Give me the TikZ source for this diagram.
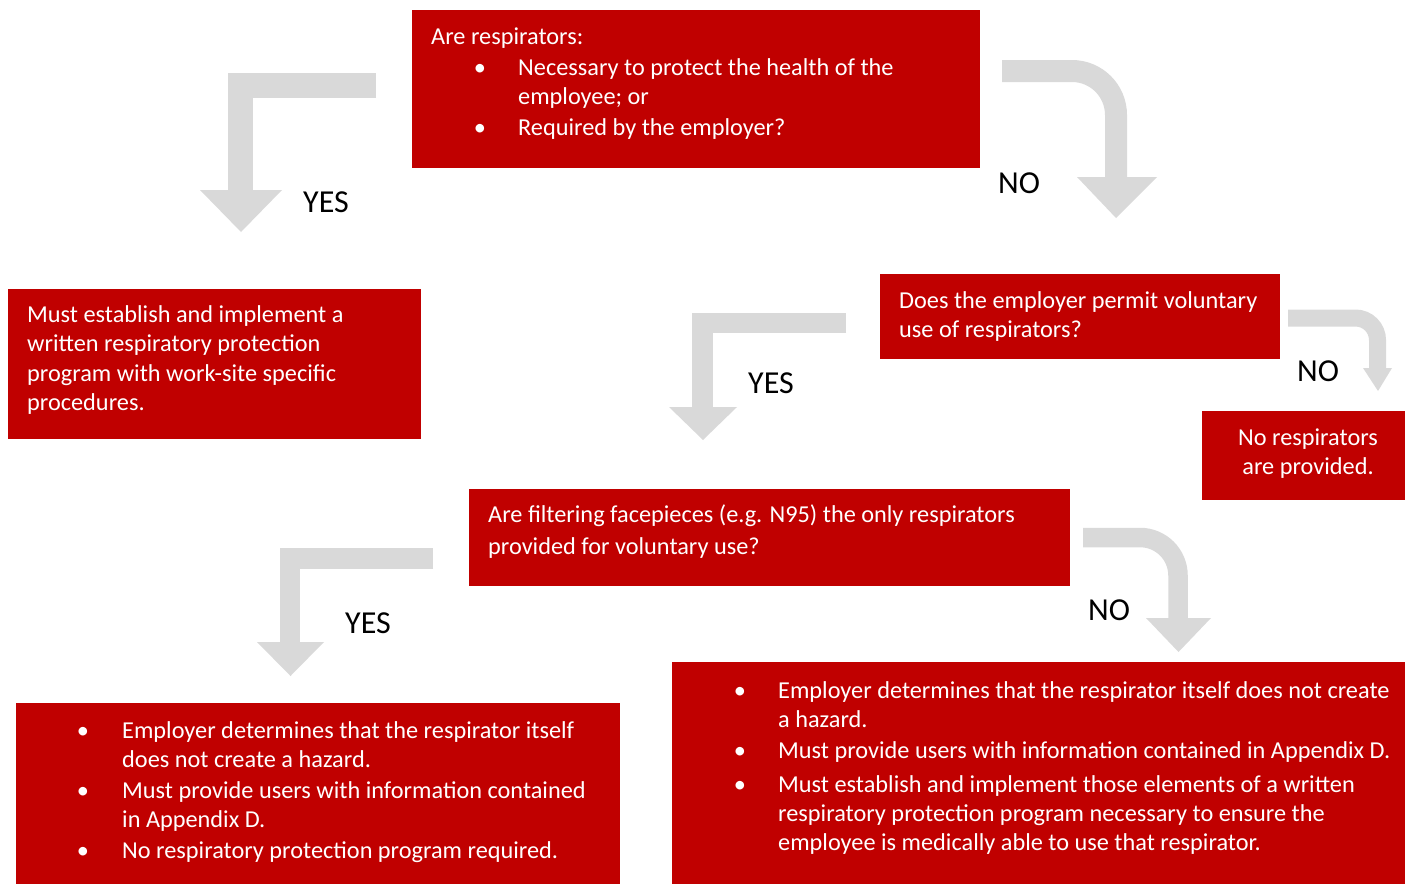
\documentclass[tikz,border=0pt]{standalone}
\usepackage{fontspec}
\setmainfont{Carlito}
\newcommand\bodyfont{\fontsize{24.3}{29}\selectfont}
\newcommand\labfont{\fontsize{32}{36}\selectfont}
\definecolor{boxred}{HTML}{C00000}
\definecolor{arrowgray}{HTML}{D9D9D9}
\begin{document}
\begin{tikzpicture}[x=1pt,y=-1pt,
  redbox/.style={fill=boxred, draw=none, inner sep=0pt, anchor=north west},
  txt/.style={anchor=base west, inner sep=0pt, text=white, font=\bodyfont},
  ctxt/.style={anchor=base, inner sep=0pt, text=white, font=\bodyfont},
  bul/.style={anchor=base, inner sep=0pt, text=white, font=\bodyfont},
  lab/.style={anchor=base west, inner sep=0pt, text=black, font=\labfont},
  shaft/.style={draw=arrowgray, line width=#1, line join=miter},
  head/.style={fill=arrowgray, draw=none}]
\useasboundingbox (0,0) rectangle (1405,884);

% boxes
\node[redbox, minimum width=568pt, minimum height=158pt] (q1) at (412,10) {};
\node[redbox, minimum width=413pt, minimum height=150pt] (r1) at (8,289) {};
\node[redbox, minimum width=400pt, minimum height=85pt] (q2) at (880,274) {};
\node[redbox, minimum width=203pt, minimum height=89pt] (r2) at (1202,411) {};
\node[redbox, minimum width=601pt, minimum height=97pt] (q3) at (469,489) {};
\node[redbox, minimum width=604pt, minimum height=181pt] (r3) at (16,703) {};
\node[redbox, minimum width=733pt, minimum height=222pt] (r4) at (672,662) {};

% box 1 text
\node[txt] (q1a) at (431,44) {Are respirators:};
\node[bul] (q1b1) at (480,75) {•};
\node[txt] (q1b) at (518,75) {Necessary to protect the health of the};
\node[txt] (q1c) at (518,104) {employee; or};
\node[bul] (q1d1) at (480,135) {•};
\node[txt] (q1d) at (518,135) {Required by the employer?};

% box r1 text
\node[txt] (r1a) at (27,322) {Must establish and implement a};
\node[txt] (r1b) at (27,351) {written respiratory protection};
\node[txt] (r1c) at (27,381) {program with work-site specific};
\node[txt] (r1d) at (27,410) {procedures.};

% box q2 text
\node[txt] (q2a) at (899,308) {Does the employer permit voluntary};
\node[txt] (q2b) at (899,337) {use of respirators?};

% box r2 text
\node[ctxt] (r2a) at (1308,445) {No respirators};
\node[ctxt] (r2b) at (1308,474) {are provided.};

% box q3 text
\node[txt] (q3a) at (488,522) {Are filtering facepieces (e.g. N95) the only respirators};
\node[txt] (q3b) at (488,554) {provided for voluntary use?};

% box r3 text
\node[bul] (r3a1) at (83,738) {•};
\node[txt] (r3a) at (122,738) {Employer determines that the respirator itself};
\node[txt] (r3b) at (122,767) {does not create a hazard.};
\node[bul] (r3c1) at (83,798) {•};
\node[txt] (r3c) at (122,798) {Must provide users with information contained};
\node[txt] (r3d) at (122,827) {in Appendix D.};
\node[bul] (r3e1) at (83,858) {•};
\node[txt] (r3e) at (122,858) {No respiratory protection program required.};

% box r4 text
\node[bul] (r4a1) at (740,698) {•};
\node[txt] (r4a) at (778,698) {Employer determines that the respirator itself does not create};
\node[txt] (r4b) at (778,727) {a hazard.};
\node[bul] (r4c1) at (740,758) {•};
\node[txt] (r4c) at (778,758) {Must provide users with information contained in Appendix D.};
\node[bul] (r4d1) at (740,792) {•};
\node[txt] (r4d) at (778,792) {Must establish and implement those elements of a written};
\node[txt] (r4e) at (778,821) {respiratory protection program necessary to ensure the};
\node[txt] (r4f) at (778,850) {employee is medically able to use that respirator.};

% arrows
% A1 (YES, top left)
\coordinate (a1s) at (376,85);
\coordinate (a1k) at (240.5,85);
\coordinate (a1e) at (240.5,190.5);
\draw[shaft=25pt] (a1s) -- (a1k) -- (a1e);
\fill[head] (200,190) -- (282,190) -- (241,232) -- cycle;
\node[lab] (l1) at (303,212) {YES};

% A2 (NO, top right)
\coordinate (a2s) at (1002,71);
\coordinate (a2k) at (1116,71);
\coordinate (a2e) at (1116,177.5);
\draw[shaft=22pt, rounded corners=44pt] (a2s) -- (a2k) -- (a2e);
\fill[head] (1077,177) -- (1157,177) -- (1116,218) -- cycle;
\node[lab] (l2) at (998,193) {NO};

% A3 (NO, small right)
\coordinate (a3s) at (1288,318);
\coordinate (a3k) at (1377.5,318);
\coordinate (a3e) at (1377.5,368.5);
\draw[shaft=17pt, rounded corners=22pt] (a3s) -- (a3k) -- (a3e);
\fill[head] (1363,368) -- (1392,368) -- (1378,391) -- cycle;
\node[lab] (l3) at (1297,381) {NO};

% A4 (YES, middle)
\coordinate (a4s) at (846,323);
\coordinate (a4k) at (702.5,323);
\coordinate (a4e) at (702.5,407.5);
\draw[shaft=20.5pt] (a4s) -- (a4k) -- (a4e);
\fill[head] (669,407) -- (737,407) -- (703,440) -- cycle;
\node[lab] (l4) at (748,393) {YES};

% A5 (YES, bottom left)
\coordinate (a5s) at (433,558.5);
\coordinate (a5k) at (290,558.5);
\coordinate (a5e) at (290,642.5);
\draw[shaft=20.5pt] (a5s) -- (a5k) -- (a5e);
\fill[head] (257,642) -- (324,642) -- (290.5,676) -- cycle;
\node[lab] (l5) at (345,633) {YES};

% A6 (NO, bottom right)
\coordinate (a6s) at (1083,537.5);
\coordinate (a6k) at (1178,537.5);
\coordinate (a6e) at (1178,618.5);
\draw[shaft=19.5pt, rounded corners=38pt] (a6s) -- (a6k) -- (a6e);
\fill[head] (1146,618) -- (1211,618) -- (1178.5,652) -- cycle;
\node[lab] (l6) at (1088,620) {NO};
\end{tikzpicture}
\end{document}
